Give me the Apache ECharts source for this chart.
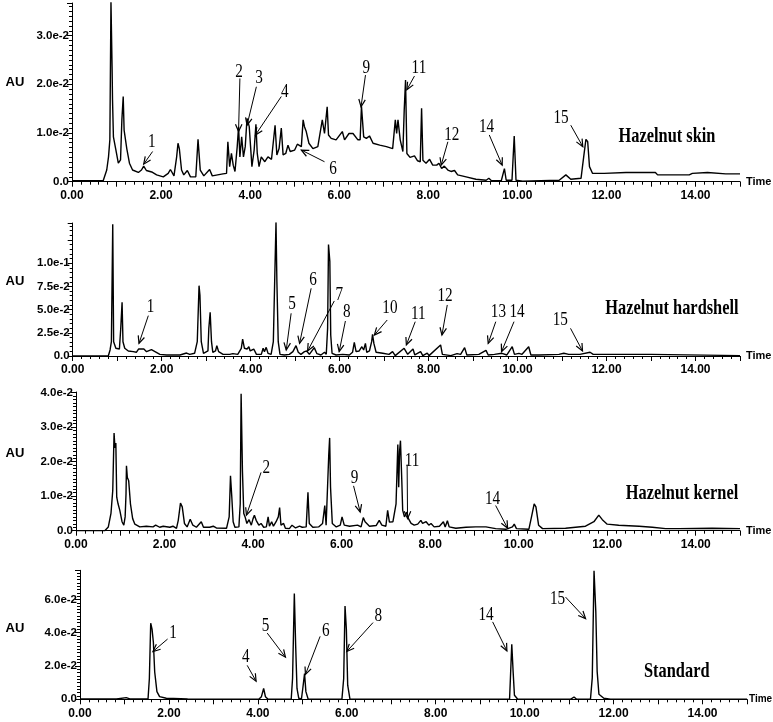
<!DOCTYPE html>
<html><head><meta charset="utf-8">
<script src="https://cdn.jsdelivr.net/npm/echarts@6/dist/echarts.min.js"></script>
<style>html,body{margin:0;padding:0;background:#fff}#c{width:773px;height:722px}</style>
</head><body><div id="c"></div>
<script>
// Chromatogram traces: [time (min), absorbance in units of 1e-2 AU]
const skinTrace = [[0,0.02],[0.70,0.02],[0.78,0.24],[0.82,0.51],[0.85,0.86],[0.875,3.70],[0.90,2.36],[0.91,1.68],[0.93,0.92],[0.98,0.68],[1.04,0.38],[1.09,0.45],[1.12,1.27],[1.15,1.75],[1.17,1.06],[1.20,1.03],[1.23,0.68],[1.29,0.38],[1.36,0.24],[1.49,0.19],[1.56,0.24],[1.61,0.32],[1.67,0.23],[1.79,0.20],[1.90,0.14],[2.05,0.10],[2.16,0.17],[2.21,0.25],[2.29,0.12],[2.35,0.51],[2.38,0.79],[2.41,0.68],[2.46,0.24],[2.51,0.14],[2.59,0.23],[2.66,0.10],[2.78,0.10],[2.83,0.87],[2.88,0.24],[2.96,0.12],[3.09,0.25],[3.15,0.12],[3.39,0.16],[3.47,0.17],[3.50,0.82],[3.54,0.31],[3.58,0.58],[3.62,0.34],[3.66,0.21],[3.71,0.72],[3.74,1.13],[3.77,0.51],[3.81,0.92],[3.85,0.51],[3.89,0.72],[3.93,1.30],[3.98,1.13],[4.01,0.72],[4.04,0.31],[4.09,0.65],[4.13,1.18],[4.16,0.58],[4.20,0.31],[4.25,0.51],[4.33,0.41],[4.40,0.51],[4.48,0.46],[4.56,1.16],[4.60,0.55],[4.65,0.68],[4.70,1.10],[4.74,0.55],[4.80,0.58],[4.85,0.75],[4.90,0.62],[5.00,0.65],[5.06,0.77],[5.15,0.72],[5.19,1.27],[5.22,1.13],[5.26,1.03],[5.32,0.79],[5.41,0.68],[5.52,0.72],[5.62,1.27],[5.67,0.99],[5.73,1.54],[5.76,0.96],[5.82,0.89],[5.93,0.86],[6.07,1.03],[6.12,0.86],[6.22,0.99],[6.31,0.99],[6.42,0.86],[6.47,0.86],[6.50,1.55],[6.55,0.92],[6.61,0.89],[6.68,0.94],[6.76,0.79],[6.91,0.75],[7.06,0.72],[7.20,0.68],[7.26,1.27],[7.29,0.99],[7.32,1.27],[7.37,0.86],[7.43,0.62],[7.46,1.47],[7.49,2.09],[7.52,0.58],[7.59,0.50],[7.69,0.53],[7.76,0.43],[7.82,0.41],[7.85,1.51],[7.88,0.44],[7.95,0.38],[8.03,0.46],[8.10,0.34],[8.19,0.34],[8.24,0.38],[8.30,0.27],[8.36,0.32],[8.44,0.24],[8.51,0.21],[8.59,0.23],[8.66,0.14],[8.85,0.10],[9.07,0.05],[9.30,0.03],[9.36,0.07],[9.42,0.02],[9.64,0.02],[9.71,0.27],[9.75,0.03],[9.88,0.03],[9.93,0.94],[9.97,0.03],[10.12,0.01],[10.94,0.03],[11.09,0.14],[11.20,0.05],[11.43,0.07],[11.49,0.51],[11.54,0.87],[11.58,0.82],[11.62,0.31],[11.69,0.17],[11.95,0.17],[11.99,0.21],[12.44,0.19],[13.10,0.19],[13.15,0.14],[13.86,0.14],[13.93,0.17],[14.27,0.19],[14.68,0.16],[15,0.16]];

const hardshellTrace = [[0,0],[0.80,0],[0.84,0.65],[0.87,1.54],[0.90,14.2],[0.92,1.54],[0.97,0.83],[1.05,0.75],[1.08,2.98],[1.11,5.78],[1.13,1.54],[1.17,0.83],[1.25,0.54],[1.36,0.47],[1.43,0.40],[1.48,0.75],[1.52,0.54],[1.60,0.75],[1.66,0.47],[1.77,0.68],[1.85,0.47],[1.96,0.18],[2.11,0.11],[2.41,0.11],[2.56,0.32],[2.63,0.18],[2.74,0.29],[2.80,1.54],[2.84,7.58],[2.86,6.57],[2.89,1.54],[2.94,0.29],[3.04,0.54],[3.06,2.98],[3.09,4.71],[3.12,1.54],[3.15,0.40],[3.21,0.54],[3.24,1.11],[3.28,0.47],[3.38,0.18],[3.53,0.18],[3.60,0.25],[3.71,0.18],[3.79,0.83],[3.82,1.83],[3.86,0.83],[3.92,0.75],[3.96,1.0],[3.99,0.54],[4.07,0.75],[4.13,0.18],[4.24,0.18],[4.28,0.83],[4.31,0.47],[4.35,0.93],[4.39,0.29],[4.46,0.18],[4.51,1.54],[4.54,8.0],[4.57,14.4],[4.59,8.0],[4.62,1.54],[4.66,0.18],[4.76,0.11],[4.87,0.18],[4.95,0.47],[5.02,1.11],[5.07,0.40],[5.13,0.18],[5.21,0.47],[5.26,0.54],[5.32,0.18],[5.43,0.90],[5.49,0.25],[5.58,0.11],[5.66,0.40],[5.70,0.18],[5.73,2.98],[5.75,12.0],[5.78,10.2],[5.80,2.26],[5.83,0.29],[5.92,0.11],[6.07,0.18],[6.22,0.11],[6.29,0.40],[6.33,1.47],[6.37,0.47],[6.44,0.54],[6.50,1.0],[6.54,0.65],[6.58,1.36],[6.61,0.40],[6.67,0.54],[6.72,1.54],[6.74,2.33],[6.77,1.36],[6.82,0.40],[6.97,0.29],[7.11,0.18],[7.19,0.47],[7.25,0.04],[7.45,0.83],[7.49,1.0],[7.53,0.18],[7.65,0.75],[7.69,0.11],[7.82,0.47],[7.87,0.04],[7.97,0.32],[8.01,0.04],[8.27,1.19],[8.31,0.18],[8.50,0.04],[8.64,0.25],[8.72,0.18],[8.81,0.90],[8.86,0.11],[9.13,0.18],[9.29,0.61],[9.34,0.11],[9.48,0.18],[9.65,0.29],[9.76,0.11],[9.88,1.0],[9.93,0.18],[10.03,0.29],[10.10,0.18],[10.25,1.0],[10.30,0.11],[10.48,0.11],[10.93,0.18],[11.04,0.29],[11.15,0.18],[11.40,0.18],[11.63,0.40],[11.70,0.18],[12.11,0.18],[13.0,0.18],[13.02,0.04],[15,0.04]];

const kernelTrace = [[0,0],[0.65,0],[0.73,0.11],[0.79,0.5],[0.83,1.16],[0.86,2.83],[0.88,2.4],[0.90,2.54],[0.92,0.97],[0.95,0.78],[0.99,0.59],[1.04,0.26],[1.08,0.16],[1.11,0.4],[1.13,1.07],[1.14,1.88],[1.16,1.54],[1.19,1.45],[1.20,1.50],[1.23,0.78],[1.28,0.35],[1.33,0.19],[1.44,0.11],[1.59,0.13],[1.74,0.11],[1.80,0.16],[1.89,0.10],[1.97,0.13],[2.12,0.10],[2.19,0.13],[2.27,0.07],[2.31,0.3],[2.36,0.8],[2.40,0.69],[2.45,0.21],[2.51,0.11],[2.58,0.33],[2.64,0.16],[2.72,0.10],[2.83,0.26],[2.88,0.10],[3.02,0.10],[3.10,0.13],[3.17,0.08],[3.40,0.07],[3.46,0.4],[3.49,1.59],[3.52,0.97],[3.55,0.26],[3.59,0.10],[3.68,0.11],[3.71,0.78],[3.73,3.97],[3.76,1.73],[3.79,0.5],[3.82,0.4],[3.86,0.21],[3.91,0.32],[3.96,0.16],[4.00,0.35],[4.03,0.45],[4.07,0.3],[4.13,0.16],[4.18,0.21],[4.24,0.10],[4.30,0.11],[4.34,0.4],[4.37,0.13],[4.42,0.26],[4.46,0.13],[4.52,0.26],[4.57,0.4],[4.60,0.67],[4.63,0.16],[4.69,0.21],[4.73,0.07],[4.82,0.06],[4.88,0.16],[4.96,0.08],[5.05,0.13],[5.11,0.10],[5.20,0.11],[5.24,1.11],[5.27,0.21],[5.35,0.10],[5.48,0.11],[5.57,0.21],[5.62,0.73],[5.65,0.16],[5.68,0.16],[5.71,2.21],[5.73,2.69],[5.75,1.26],[5.79,0.21],[5.88,0.11],[5.97,0.16],[6.01,0.4],[6.06,0.16],[6.18,0.13],[6.36,0.16],[6.44,0.11],[6.49,0.38],[6.53,0.26],[6.57,0.23],[6.63,0.13],[6.78,0.15],[6.85,0.3],[6.91,0.16],[7.00,0.13],[7.04,0.59],[7.08,0.25],[7.16,0.26],[7.23,0.78],[7.27,2.5],[7.29,1.26],[7.31,2.3],[7.33,2.61],[7.36,1.45],[7.38,0.59],[7.42,0.4],[7.47,0.54],[7.51,0.35],[7.57,0.21],[7.64,0.16],[7.72,0.19],[7.79,0.3],[7.83,0.21],[7.91,0.26],[7.97,0.16],[8.02,0.21],[8.09,0.11],[8.21,0.13],[8.30,0.26],[8.34,0.11],[8.39,0.29],[8.43,0.11],[8.58,0.07],[8.81,0.10],[9.03,0.11],[9.26,0.11],[9.48,0.06],[9.71,0.04],[9.86,0.11],[9.90,0.19],[9.95,0.06],[10.23,0.04],[10.29,0.4],[10.35,0.78],[10.39,0.69],[10.45,0.16],[10.54,0.06],[11.06,0.07],[11.51,0.13],[11.70,0.26],[11.81,0.45],[11.89,0.32],[12.0,0.19],[12.26,0.16],[12.72,0.13],[13.02,0.10],[13.32,0.06],[13.62,0.06],[14.37,0.07],[15,0.06]];

const standardTrace = [[0,0.02],[0.82,0.02],[1.04,0.1],[1.12,0.02],[1.53,0.02],[1.56,1.25],[1.59,4.57],[1.62,4.22],[1.65,3.43],[1.68,1.64],[1.73,0.46],[1.79,0.16],[1.94,0.06],[2.42,0.02],[2.45,0],[4.02,0],[4.08,0.16],[4.13,0.65],[4.17,0.16],[4.23,0],[4.75,0],[4.78,1.25],[4.82,6.36],[4.85,3.23],[4.88,0.65],[4.92,0.06],[4.98,0.02],[5.01,0.65],[5.05,1.54],[5.08,0.46],[5.13,0.02],[5.89,0],[5.93,1.25],[5.96,5.6],[5.99,4.22],[6.02,0.85],[6.07,0.02],[6.48,0],[6.52,0.1],[6.56,0],[7.61,0],[7.65,0.1],[7.70,0],[8.72,0],[8.76,0.05],[8.80,0],[9.66,0],[9.68,1.29],[9.71,3.31],[9.74,1.68],[9.77,0.24],[9.84,0.02],[9.99,0],[11.03,0],[11.11,0.14],[11.17,0],[11.48,0.02],[11.52,1.29],[11.56,7.72],[11.60,5.25],[11.63,1.68],[11.67,0.3],[11.78,0.06],[11.93,0],[15,0]];

// Peak annotations: [label, text t, text v, arrow tail t, tail v, arrow head t, head v] (v in 1e-2 AU)
const skinNotes = [['1',1.79,0.82,1.81,0.62,1.61,0.36],['2',3.75,2.26,3.77,2.12,3.74,1.03],['3',4.20,2.12,4.14,1.95,3.93,1.16],['4',4.78,1.85,4.70,1.75,4.12,0.96],['6',5.86,0.27,5.67,0.41,5.15,0.65],['9',6.61,2.33,6.59,2.19,6.49,1.54],['11',7.79,2.33,7.69,2.17,7.52,1.89],['12',8.53,0.96,8.44,0.82,8.29,0.34],['14',9.31,1.13,9.37,0.96,9.66,0.34],['15',10.98,1.30,11.20,1.16,11.47,0.72]];
const hardshellNotes = [['1',1.75,5.3,1.70,4.35,1.49,1.36],['5',4.93,5.57,4.91,4.6,4.80,0.65],['6',5.40,8.19,5.36,7.29,5.10,1.36],['7',5.99,6.57,5.88,5.93,5.28,0.54],['8',6.16,4.78,6.13,3.77,5.99,0.47],['10',7.13,5.14,7.07,3.88,6.78,2.26],['11',7.77,4.49,7.70,3.70,7.50,1.19],['12',8.37,6.5,8.42,5.5,8.30,2.26],['13',9.57,4.78,9.51,3.70,9.34,1.36],['14',9.99,4.78,9.92,3.70,9.64,0.47],['15',10.96,3.88,11.19,2.98,11.46,0.54]];
const kernelNotes = [['2',4.30,1.83,4.18,1.69,3.85,0.45],['9',6.29,1.54,6.27,1.30,6.42,0.54],['11',7.59,2.02,7.48,1.92,7.49,0.35],['14',9.41,0.92,9.48,0.73,9.75,0.07]];
const standardNotes = [['1',2.09,3.98,1.97,3.62,1.64,2.87],['4',3.73,2.53,3.76,2.04,3.96,1.09],['5',4.17,4.42,4.21,3.98,4.62,2.53],['6',5.53,4.12,5.40,3.78,5.07,1.49],['8',6.71,5.01,6.59,4.61,6.00,2.87],['14',9.13,5.05,9.28,4.65,9.60,2.91],['15',10.74,6.04,10.92,6.14,11.37,4.85]];

const panelTitles = ['Hazelnut skin','Hazelnut hardshell','Hazelnut kernel','Standard'];
const titleAnchors = [[13.36,0.92],[13.47,5.14],[13.69,1.07],[13.42,1.68]];
const auLevels = [2.03, 8.08, 2.25, 4.28];
const yMaxes = [3.67, 14.33, 4.02, 7.75];        // 1e-2 AU
const yIntervals = [1, 2.5, 1, 2];               // 1e-2 AU
const yLabelMax = [3, 10, 4, 6];                 // 1e-2 AU
const xTickLabels = ['0.00','2.00','4.00','6.00','8.00','10.00','12.00','14.00'];

const traces = [skinTrace, hardshellTrace, kernelTrace, standardTrace];
const notes = [skinNotes, hardshellNotes, kernelNotes, standardNotes];
const grids = [
  {left:72, right:33, top:3, height:178.7},
  {left:72.7, right:33, top:223, height:133},
  {left:76, right:33, top:392, height:138.7},
  {left:80, right:26, top:570.3, height:129}
];
const minorSplits = [10, 5, 10, 10];

const SANS = '"Liberation Sans", Arial, sans-serif';
const SERIF = '"Liberation Serif", "Times New Roman", serif';

const chart = echarts.init(document.getElementById('c'), null, {renderer:'canvas'});
const option = {
  animation:false,
  backgroundColor:'#fff',
  grid: grids.map(g => Object.assign({containLabel:false, outerBoundsMode:'none'}, g)),
  xAxis: grids.map((g,i) => ({
    type:'value', gridIndex:i, min:0, max:15, interval:1,
    name:'Time', nameLocation:'end', nameGap: i===3 ? 2 : 6,
    nameTextStyle:{fontFamily:SANS, fontWeight:'bold', fontSize: i===3 ? 10 : 11, color:'#000'},
    axisLine:{show:true, onZero:false, lineStyle:{color:'#000', width:1}},
    axisTick:{show:true, length:5, inside:false, lineStyle:{color:'#000', width:1}},
    minorTick:{show:true, splitNumber:5, length:3, lineStyle:{color:'#000', width:1}},
    splitLine:{show:false}, minorSplitLine:{show:false},
    axisLabel:{show:true, margin:8, fontFamily:SANS, fontWeight:'bold', fontSize:12, color:'#000',
      showMaxLabel:false,
      formatter: v => { const k = Math.round(v); return (k % 2 === 0 && Math.abs(v-k)<1e-6) ? (xTickLabels[k/2] || '') : ''; }}
  })),
  yAxis: grids.map((g,i) => ({
    type:'value', gridIndex:i, min:0, max:yMaxes[i]/100, interval:yIntervals[i]/100,
    axisLine:{show:true, onZero:false, lineStyle:{color:'#000', width:1}},
    axisTick:{show:true, length:5, inside:false, lineStyle:{color:'#000', width:1}},
    minorTick:{show:true, splitNumber:minorSplits[i], length:3, lineStyle:{color:'#000', width:1}},
    splitLine:{show:false}, minorSplitLine:{show:false},
    axisLabel:{show:true, margin:3, fontFamily:SANS, fontWeight:'bold', fontSize:11.5, color:'#000',
      showMaxLabel:false,
      formatter: v => {
        if (Math.abs(v) < 1e-9) return '0.0';
        const u = v*100;
        if (u > yLabelMax[i] + 1e-6) return '';
        const q = u / yIntervals[i];
        if (Math.abs(q - Math.round(q)) > 1e-6) return '';
        return v.toExponential(1);
      }}
  })),
  series: traces.map((tr,i) => ({
    type:'line', xAxisIndex:i, yAxisIndex:i, showSymbol:false, symbol:'none',
    clip:true, smooth:false,
    lineStyle:{color:'#000', width:1.4},
    data: tr.map(p => [p[0], p[1]/100])
  }))
};
chart.setOption(option);

function buildGraphics(){
  const els = [];
  notes.forEach((list,i) => {
    const toPx = (t,v) => chart.convertToPixel({gridIndex:i}, [t, v/100]);
    list.forEach(n => {
      const tp = toPx(n[1], n[2]);
      const a = toPx(n[3], n[4]);
      const b = toPx(n[5], n[6]);
      els.push({type:'text', x:tp[0], y:tp[1], scaleX:0.8, silent:true,
        style:{text:n[0], font:'19px ' + SERIF, fill:'#000', align:'center', verticalAlign:'middle'}});
      els.push({type:'line', silent:true, shape:{x1:a[0], y1:a[1], x2:b[0], y2:b[1]},
        style:{stroke:'#000', lineWidth:1}});
      const dx = b[0]-a[0], dy = b[1]-a[1], L = Math.hypot(dx,dy) || 1;
      const ux = dx/L, uy = dy/L, len = 8, ang = 0.42;
      const p1 = [b[0] - len*(ux*Math.cos(ang) - uy*Math.sin(ang)), b[1] - len*(uy*Math.cos(ang) + ux*Math.sin(ang))];
      const p2 = [b[0] - len*(ux*Math.cos(-ang) - uy*Math.sin(-ang)), b[1] - len*(uy*Math.cos(-ang) + ux*Math.sin(-ang))];
      els.push({type:'polyline', silent:true, shape:{points:[p1, b, p2]},
        style:{stroke:'#000', lineWidth:1.2, fill:null}});
    });
    const ta = toPx(titleAnchors[i][0], titleAnchors[i][1]);
    els.push({type:'text', x:ta[0], y:ta[1], scaleX:0.78, silent:true,
      style:{text:panelTitles[i], font:'bold 21px ' + SERIF, fill:'#000', align:'center', verticalAlign:'middle'}});
    const au = toPx(0, auLevels[i]);
    els.push({type:'text', x:15, y:au[1], silent:true,
      style:{text:'AU', font:'bold 13px ' + SANS, fill:'#000', align:'center', verticalAlign:'middle'}});
  });
  chart.setOption({graphic: els});
}
buildGraphics();
</script></body></html>
